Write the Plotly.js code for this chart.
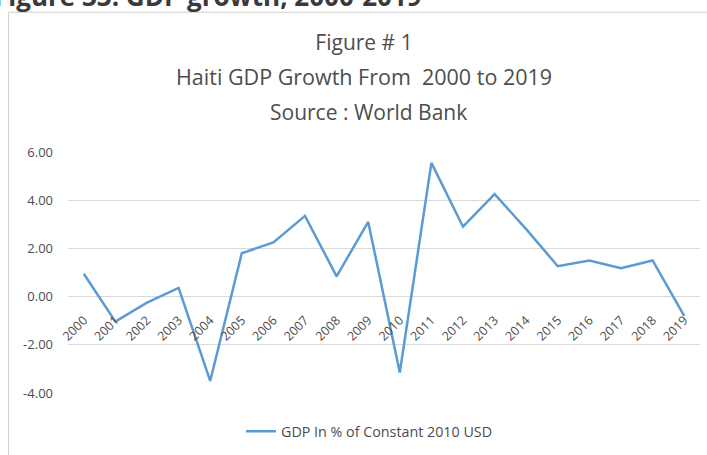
<!DOCTYPE html>
<html>
<head>
<meta charset="utf-8">
<script src="https://cdn.plot.ly/plotly-3.0.1.min.js"></script>
<style>html,body{margin:0;padding:0;background:#fff;}#chart{width:707px;height:455px;}</style>
</head>
<body>
<div id="chart"></div>
<script>
const years = ["2000","2001","2002","2003","2004","2005","2006","2007","2008","2009","2010","2011","2012","2013","2014","2015","2016","2017","2018","2019"];
const gdpGrowth = [0.95,-1.04,-0.25,0.36,-3.5,1.8,2.25,3.35,0.84,3.1,-3.15,5.55,2.9,4.25,2.8,1.26,1.5,1.18,1.5,-0.8];
const yTickVals = [-4,-2,0,2,4,6];
const yTickText = ["-4.00","-2.00","0.00","2.00","4.00","6.00"];
const seriesName = "GDP In % of Constant 2010 USD";
const titleLines = ["Figure # 1","Haiti GDP Growth From  2000 to 2019","Source : World Bank"];
const headerText = "Figure 33: GDP growth, 2000-2019";

const FONT = "Open Sans, sans-serif";
const TXT = "#4d4d4d";
const trace = {
  x: years, y: gdpGrowth, type: "scatter", mode: "lines", name: seriesName,
  line: {color: "#5B9BD5", width: 2.5}
};
const plotTop = 152, plotBot = 396, H = 455, L = 68, R = 700, W = 707;
const ph = plotBot - plotTop, pw = R - L;
const py = px => (plotBot - px) / ph;
const pxr = px => (px - L) / pw;

const layout = {
  width: W, height: H,
  margin: {l: L, r: W - R, t: plotTop, b: H - plotBot, pad: 0},
  paper_bgcolor: "#fff", plot_bgcolor: "#fff",
  font: {family: FONT, color: TXT, size: 12},
  title: {text: titleLines[0], x: pxr(364), xref: "paper", xanchor: "center",
          y: 1 - 43 / H, yanchor: "middle", yref: "container",
          font: {family: FONT, size: 21, color: TXT}},
  showlegend: true,
  legend: {orientation: "h", x: pxr(241), xanchor: "left", y: py(435), yanchor: "middle",
           font: {family: FONT, size: 14.3, color: TXT}, bgcolor: "rgba(0,0,0,0)"},
  xaxis: {type: "category", range: [-0.5, 19.5], anchor: "free", position: 0.4, tickangle: -45,
          showgrid: false, zeroline: false, showline: false, ticks: "",
          ticklabelstandoff: 13,
          tickfont: {family: FONT, size: 12.5, color: TXT}, fixedrange: true},
  yaxis: {range: [-4, 6], tickvals: yTickVals, ticktext: yTickText,
          showgrid: true, gridcolor: "#d9d9d9", gridwidth: 1,
          zeroline: false, showline: false, ticks: "", ticklabelstandoff: 14,
          tickfont: {family: FONT, size: 13, color: TXT}, fixedrange: true},
  annotations: [
    {text: titleLines[1], xref: "paper", yref: "paper", x: pxr(364), y: py(76),
     xanchor: "center", yanchor: "middle", showarrow: false,
     font: {family: FONT, size: 21.5, color: TXT}},
    {text: titleLines[2], xref: "paper", yref: "paper", x: pxr(368), y: py(111),
     xanchor: "center", yanchor: "middle", showarrow: false,
     font: {family: FONT, size: 21, color: TXT}},
    {text: "<b>" + headerText + "</b>", xref: "paper", yref: "paper", x: pxr(-8), y: py(-6),
     xanchor: "left", yanchor: "middle", showarrow: false,
     font: {family: FONT, size: 26, color: "#3a3a3a"}}
  ],
  shapes: [
    {type: "rect", xref: "paper", yref: "paper", x0: pxr(8.5), x1: pxr(760), y0: py(520), y1: py(10.5),
     line: {color: "#d0d0d0", width: 1}, fillcolor: "rgba(0,0,0,0)", layer: "below"}
  ]
};
Plotly.newPlot("chart", [trace], layout, {displayModeBar: false, staticPlot: true});
</script>
</body>
</html>
